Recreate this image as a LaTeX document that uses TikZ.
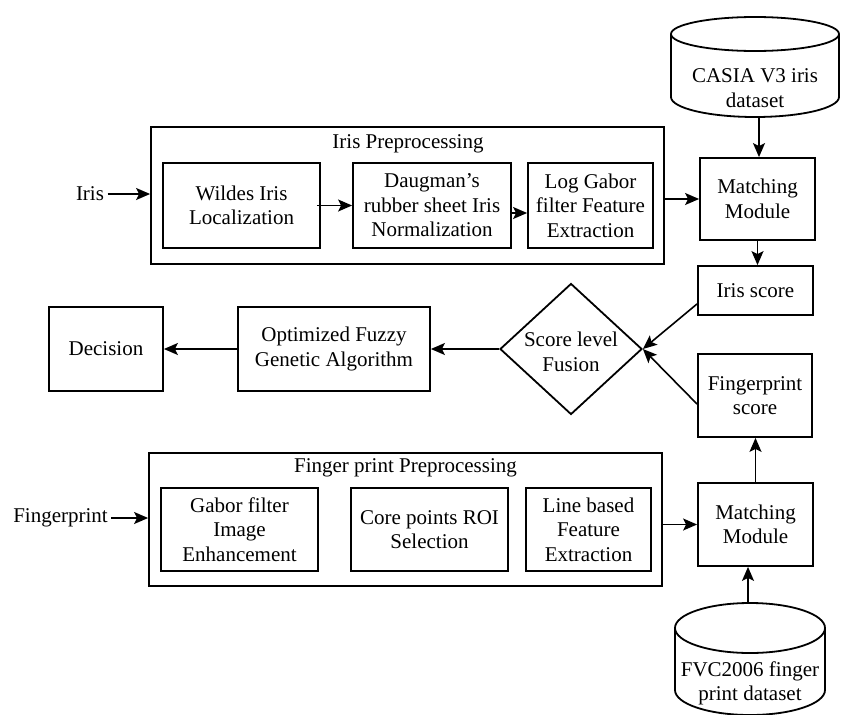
\documentclass[tikz,border=0pt]{standalone}
\usepackage{fontspec}
\setmainfont{Liberation Serif}
\usetikzlibrary{shapes.geometric,arrows.meta,calc}
\begin{document}
\begin{tikzpicture}[x=1pt,y=-1pt,
  every node/.style={font=\fontsize{21}{24.5}\selectfont},
  box/.style={draw, line width=1.8pt, align=center, inner sep=2pt},
  lbl/.style={align=center},
  arr/.style={line width=1.6pt, -{Stealth[length=14pt,width=12pt,inset=3pt]}},
  cyl/.style={line width=1.8pt},
]
\useasboundingbox (0,0) rectangle (841,715);

% ---- Iris preprocessing
\node[box, minimum width=513pt, minimum height=137pt] (irisprep) at (407.5,195.5) {};
\node[lbl] (iristitle) at (408,144) {Iris Preprocessing};
\node[box, minimum width=157pt, minimum height=85pt] (wildes) at (241.5,205.5) {Wildes Iris\\Localization};
\node[box, minimum width=158pt, minimum height=85pt] (daug) at (432,205.5) {Daugman's\\rubber sheet Iris\\Normalization};
\node[box, minimum width=125pt, minimum height=85pt] (logg) at (590.5,205.5) {Log Gabor\\filter Feature\\Extraction};
\node[lbl] (iris) at (90,194) {Iris};
\draw[arr] (iris) -- (iris -| irisprep.west);
\draw[arr] ([xshift=-4pt]wildes.east) -- (daug.west);
\draw[arr] ([yshift=-7.5pt]daug.east) -- ([yshift=-7.5pt]logg.west);

% ---- CASIA cylinder
\draw[cyl] (671,34) -- (671,97) arc[start angle=180, end angle=360, x radius=84pt, y radius=20pt] -- (839,34);
\draw[cyl] (755,34) ellipse [x radius=84pt, y radius=17pt];
\node[lbl] (casia) at (755,88) {CASIA V3 iris\\dataset};
\coordinate (casiabot) at (759,117);

% ---- Matching / scores
\node[box, minimum width=115pt, minimum height=82pt] (mm1) at (757.5,199) {Matching\\Module};
\node[box, minimum width=115pt, minimum height=49pt] (irisscore) at (755.5,290.5) {Iris score};
\node[box, minimum width=114pt, minimum height=83pt] (fpscore) at (755,395.5) {Fingerprint\\score};
\node[box, minimum width=115pt, minimum height=83pt] (mm2) at (755.5,524.5) {Matching\\Module};

\draw[arr] (casiabot) -- (casiabot |- mm1.north);
\draw[arr] (irisprep.east |- mm1) -- (mm1.west);
\draw[arr] (mm1.south) -- (mm1.south |- irisscore.north);
\draw[arr] (mm2.north) -- (mm2.north |- fpscore.south);

% ---- Fusion and decision
\node[draw, diamond, line width=1.8pt, minimum width=142pt, minimum height=131pt, inner sep=0pt] (fus) at (571,349) {};
\node[lbl] (fustext) at (571,352) {Score level\\Fusion};
\node[box, minimum width=192pt, minimum height=84pt] (opt) at (334,349) {Optimized Fuzzy\\Genetic Algorithm};
\node[box, minimum width=114pt, minimum height=84pt] (dec) at (106,349) {Decision};

\draw[arr] ([yshift=12pt]irisscore.south west) -- (fus.east);
\draw[arr] ([yshift=-51pt]fpscore.north west) -- (fus.east);
\draw[arr] (fus.west) -- (opt.east);
\draw[arr] (opt.west) -- (dec.east);

% ---- Fingerprint preprocessing
\node[box, minimum width=513pt, minimum height=133pt] (fpprep) at (405.5,519.5) {};
\node[lbl] (fptitle) at (405.5,468) {Finger print Preprocessing};
\node[box, minimum width=157pt, minimum height=83pt] (gabor) at (239.5,529.5) {Gabor filter\\Image\\Enhancement};
\node[box, minimum width=157pt, minimum height=83pt] (core) at (429.5,529.5) {Core points ROI\\Selection};
\node[box, minimum width=125pt, minimum height=83pt] (lineb) at (588.5,529.5) {Line based\\Feature\\Extraction};
\node[lbl] (fp) at (60.5,518) {Fingerprint};
\draw[arr] (fp) -- (fp -| fpprep.west);
\draw[arr] (fpprep.east |- mm2) -- (mm2.west);

% ---- FVC cylinder
\draw[cyl] (675,628) -- (675,690) arc[start angle=180, end angle=360, x radius=75pt, y radius=25pt] -- (825,628);
\draw[cyl] (750,628) ellipse [x radius=75pt, y radius=25pt];
\node[lbl] (fvc) at (750,683.5) {FVC2006 finger\\print dataset};
\coordinate (fvctop) at (748,603);
\draw[arr] (fvctop) -- (fvctop |- mm2.south);
\end{tikzpicture}
\end{document}
